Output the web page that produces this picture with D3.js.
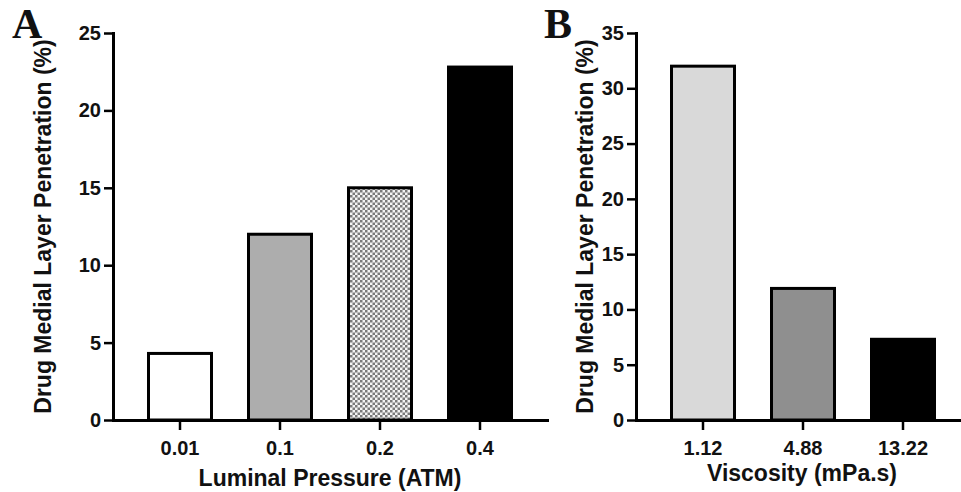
<!DOCTYPE html>
<html>
<head>
<meta charset="utf-8">
<script src="https://cdn.jsdelivr.net/npm/d3@7"></script>
<style>
  body { margin: 0; background: #fff; }
  svg text { font-family: "Liberation Sans", Arial, sans-serif; font-weight: bold; fill: #111; }
  .panel-letter { font-family: "Liberation Serif", "Times New Roman", serif; font-size: 42px; }
</style>
</head>
<body>
<svg id="chart" width="961" height="492"></svg>
<script>
// panel A: luminal pressure
var pressure_labels = ["0.01", "0.1", "0.2", "0.4"];
var pressure_values = [4.3, 12.0, 15.0, 22.8];
var pressure_fills = ["#ffffff", "#adadad", "url(#checker)", "#000000"];
var pressure_ticks = [0, 5, 10, 15, 20, 25];

// panel B: viscosity
var viscosity_labels = ["1.12", "4.88", "13.22"];
var viscosity_values = [32.0, 11.9, 7.3];
var viscosity_fills = ["#d9d9d9", "#8f8f8f", "#000000"];
var viscosity_ticks = [0, 5, 10, 15, 20, 25, 30, 35];

var svg = d3.select("#chart");

// checker pattern for the 0.2 bar
var pat = svg.append("defs").append("pattern")
  .attr("id", "checker")
  .attr("patternUnits", "userSpaceOnUse")
  .attr("width", 5).attr("height", 5);
pat.append("rect").attr("width", 5).attr("height", 5).attr("fill", "#f4f4f4");
pat.append("rect").attr("width", 2.5).attr("height", 2.5).attr("fill", "#7a7a7a");
pat.append("rect").attr("x", 2.5).attr("y", 2.5).attr("width", 2.5).attr("height", 2.5).attr("fill", "#7a7a7a");

function draw_panel(opts) {
  var g = svg.append("g");

  var x = d3.scaleBand()
    .domain(opts.labels)
    .range([opts.left, opts.right])
    .paddingInner(0.37)
    .paddingOuter(0.355);

  var y = d3.scaleLinear()
    .domain([0, opts.max])
    .range([420, 33]);

  // bars
  g.selectAll("rect.bar")
    .data(opts.values)
    .enter().append("rect")
    .attr("class", "bar")
    .attr("x", function (d, i) { return x(opts.labels[i]); })
    .attr("y", function (d) { return y(d); })
    .attr("width", x.bandwidth())
    .attr("height", function (d) { return y(0) - y(d); })
    .attr("fill", function (d, i) { return opts.fills[i]; })
    .attr("stroke", "#000")
    .attr("stroke-width", 3);

  // y axis
  var ya = g.append("g")
    .attr("transform", "translate(" + opts.left + ",0)")
    .call(d3.axisLeft(y).tickValues(opts.ticks).tickSize(9).tickSizeOuter(0).tickPadding(3));
  ya.selectAll("text").style("font-size", "20px");

  // x axis
  var xa = g.append("g")
    .attr("transform", "translate(0," + y(0) + ")")
    .call(d3.axisBottom(x).tickSize(10).tickSizeOuter(0).tickPadding(11));
  xa.selectAll("text").style("font-size", "20px");

  g.selectAll(".domain").attr("stroke-width", 3).attr("stroke-linecap", "square");
  g.selectAll(".tick line").attr("stroke-width", 2.5);

  // axis titles
  g.append("text")
    .attr("transform", "translate(" + opts.ytitle_x + "," + ((y(0) + y(opts.max)) / 2) + ") rotate(-90)")
    .attr("text-anchor", "middle")
    .style("font-size", "23px")
    .text("Drug Medial Layer Penetration (%)");

  g.append("text")
    .attr("x", opts.xtitle_x)
    .attr("y", opts.xtitle_y)
    .attr("text-anchor", "middle")
    .style("font-size", "23px")
    .text(opts.xtitle);

  g.append("text")
    .attr("class", "panel-letter")
    .attr("x", opts.letter_x)
    .attr("y", 38)
    .text(opts.letter);
}

draw_panel({
  labels: pressure_labels, values: pressure_values, fills: pressure_fills,
  ticks: pressure_ticks, max: 25,
  left: 113, right: 547,
  ytitle_x: 51, xtitle: "Luminal Pressure (ATM)", xtitle_x: 330, xtitle_y: 486,
  letter: "A", letter_x: 12
});

draw_panel({
  labels: viscosity_labels, values: viscosity_values, fills: viscosity_fills,
  ticks: viscosity_ticks, max: 35,
  left: 636, right: 970,
  ytitle_x: 593, xtitle: "Viscosity (mPa.s)", xtitle_x: 802, xtitle_y: 481,
  letter: "B", letter_x: 544
});
</script>
</body>
</html>
